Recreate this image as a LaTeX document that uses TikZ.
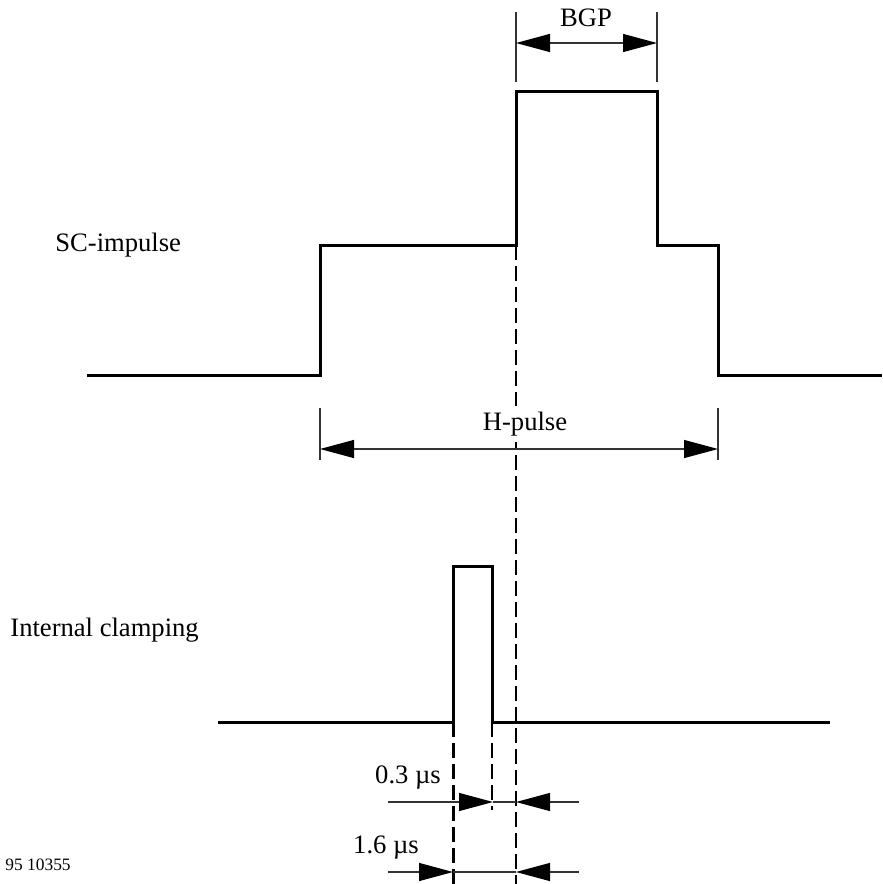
\documentclass[tikz,border=0pt]{standalone}
\usepackage{fontspec}
\setmainfont{Liberation Serif}
\usetikzlibrary{arrows.meta}

\begin{document}
\begin{tikzpicture}[x=0.5pt,y=-0.5pt]
	\tikzstyle{every node}+=[inner sep=0pt]
	\tikzstyle{signal}=[line width=1.5pt, line join=miter]
	\tikzstyle{dim}=[line width=0.6pt, draw=black!80, >={Triangle[length=17pt,width=9pt,color=black]}]
	\tikzstyle{tip}=[dim, ->]
	\tikzstyle{marker}=[line width=1pt, dash pattern=on 7.5pt off 3pt]
	\tikzstyle{txt}=[font=\fontsize{13.3}{16}\selectfont]
	\useasboundingbox (0,0) rectangle (883,884);
	% SC-impulse
	\node[txt, anchor=west] (sc) at (55,245) {SC-impulse};
	\coordinate (s0) at (87,375);
	\coordinate (s1) at (320,375);
	\coordinate (s2) at (320,245);
	\coordinate (s3) at (516,245);
	\coordinate (s4) at (516,91);
	\coordinate (s5) at (657,91);
	\coordinate (s6) at (657,245);
	\coordinate (s7) at (718,245);
	\coordinate (s8) at (718,375);
	\coordinate (s9) at (882,375);
	\draw[signal] (s0) -- (s1) -- (s2) -- (s3) -- (s4) -- (s5) -- (s6) -- (s7) -- (s8) -- (s9);
	% markers
	\draw[marker] (s3) -- (516,884);
	% BGP
	\coordinate (bgpL) at (516,43);
	\coordinate (bgpR) at (657,43);
	\draw[dim] (516,12) -- (516,82);
	\draw[dim] (657,12) -- (657,82);
	\draw[dim, <->] (bgpL) -- (bgpR);
	\node[txt] (bgp) at (586,18) {BGP};
	% H-pulse
	\coordinate (hL) at (320,449);
	\coordinate (hR) at (718,449);
	\draw[dim] (320,408) -- (320,460);
	\draw[dim] (718,408) -- (718,460);
	\draw[dim, <->] (hL) -- (hR);
	\node[txt, fill=white, inner ysep=3pt] (hp) at (525,424) {H-pulse};
	% Internal clamping
	\node[txt, anchor=west] (ic) at (10,630) {Internal clamping};
	\coordinate (c0) at (218,722);
	\coordinate (c1) at (453,722);
	\coordinate (c2) at (453,566);
	\coordinate (c3) at (492,566);
	\coordinate (c4) at (492,722);
	\coordinate (c5) at (830,722);
	\draw[signal] (c0) -- (c1) -- (c2) -- (c3) -- (c4) -- (c5);
	\draw[marker, line width=1.5pt] (c1) -- (453,884);
	\draw[marker] (c4) -- (492,810);
	% 0.3 us
	\coordinate (a0) at (388,802);
	\coordinate (a1) at (493,802);
	\coordinate (a2) at (516,802);
	\coordinate (a3) at (579,802);
	\draw[tip] (a0) -- (a1);
	\draw[tip] (a3) -- (a2);
	\draw[dim] (a1) -- (a2);
	\node[txt] (t03) at (408,777) {0.3 µs};
	% 1.6 us
	\coordinate (b0) at (388,872);
	\coordinate (b1) at (453,872);
	\coordinate (b2) at (516,872);
	\coordinate (b3) at (579,872);
	\draw[tip] (b0) -- (b1);
	\draw[tip] (b3) -- (b2);
	\draw[dim] (b1) -- (b2);
	\node[txt] (t16) at (386,848) {1.6 µs};
	\node[font=\fontsize{8.7}{10}\selectfont, anchor=west] (ref) at (5,865) {95 10355};
\end{tikzpicture}
\end{document}
